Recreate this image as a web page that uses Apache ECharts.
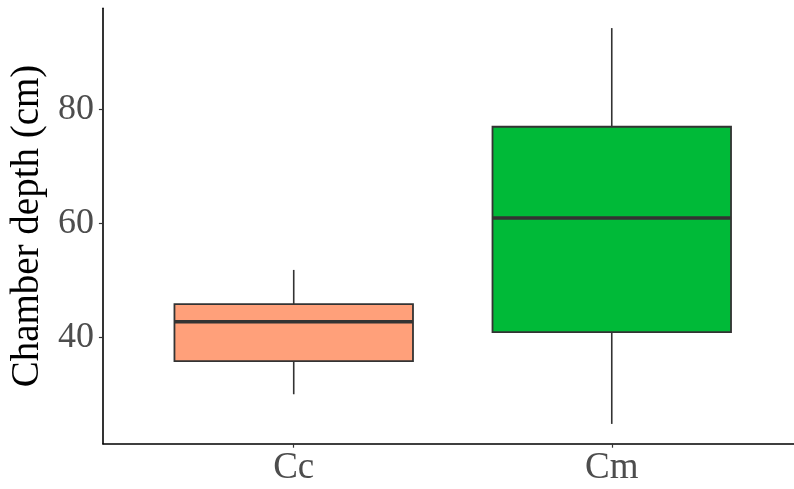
<!DOCTYPE html>
<html>
<head>
<meta charset="utf-8">
<script src="https://cdn.jsdelivr.net/npm/echarts@6/dist/echarts.min.js"></script>
<style>
html,body{margin:0;padding:0;background:#fff;}
#chart{width:794px;height:489px;}
</style>
</head>
<body>
<div id="chart"></div>
<script>
const categories = ['Cc', 'Cm'];
const lowerWhisker = [30, 24.8];
const q1 = [35.8, 40.9];
const median = [42.7, 60.9];
const q3 = [45.8, 76.9];
const upperWhisker = [51.8, 94.2];
const fillColors = ['#FFA07A', '#00BA38'];
const yTicks = [40, 60, 80];
const yAxisTitle = 'Chamber depth (cm)';

const data = categories.map((c, i) => [i + 1, lowerWhisker[i], q1[i], median[i], q3[i], upperWhisker[i]]);

const chart = echarts.init(document.getElementById('chart'), null, {renderer: 'canvas'});
const fontFamily = '"Liberation Serif", "DejaVu Serif", serif';

chart.setOption({
  animation: false,
  backgroundColor: '#ffffff',
  grid: {left: 100.2, right: 0, top: 8.3, bottom: 45.3, containLabel: false},
  xAxis: {
    type: 'value',
    min: 0.4,
    max: 2.573,
    splitLine: {show: false},
    axisLine: {show: true, onZero: false, lineStyle: {color: '#000', width: 1.6}},
    axisTick: {show: true, length: 4, lineStyle: {color: '#333', width: 1.2}, customValues: [1, 2]},
    axisLabel: {
      customValues: [1, 2],
      formatter: v => categories[Math.round(v) - 1] || '',
      color: '#4D4D4D', fontSize: 37, fontFamily: fontFamily, margin: 6
    }
  },
  yAxis: {
    type: 'value',
    min: 21.33,
    max: 97.67,
    name: yAxisTitle,
    nameLocation: 'middle',
    nameGap: 55,
    nameTextStyle: {color: '#000', fontSize: 39, fontFamily: fontFamily},
    splitLine: {show: false},
    axisLine: {show: true, onZero: false, lineStyle: {color: '#000', width: 1.6}},
    axisTick: {show: true, length: 4, lineStyle: {color: '#333', width: 1.2}, customValues: yTicks},
    axisLabel: {customValues: yTicks, color: '#4D4D4D', fontSize: 36, fontFamily: fontFamily, margin: 9}
  },
  series: [{
    type: 'custom',
    data: data,
    encode: {x: 0, y: [1, 2, 3, 4, 5]},
    renderItem: function (params, api) {
      const x = api.value(0);
      const idx = params.dataIndex;
      const half = 0.375;
      const pLowL = api.coord([x - half, api.value(2)]);
      const pHighR = api.coord([x + half, api.value(4)]);
      const pMedL = api.coord([x - half, api.value(3)]);
      const pMedR = api.coord([x + half, api.value(3)]);
      const wLow = api.coord([x, api.value(1)]);
      const wQ1 = api.coord([x, api.value(2)]);
      const wQ3 = api.coord([x, api.value(4)]);
      const wHigh = api.coord([x, api.value(5)]);
      const stroke = '#333333';
      return {
        type: 'group',
        children: [
          {type: 'line', shape: {x1: wLow[0], y1: wLow[1], x2: wQ1[0], y2: wQ1[1]}, style: {stroke: stroke, lineWidth: 1.6}},
          {type: 'line', shape: {x1: wQ3[0], y1: wQ3[1], x2: wHigh[0], y2: wHigh[1]}, style: {stroke: stroke, lineWidth: 1.6}},
          {type: 'rect', shape: {x: pLowL[0], y: pHighR[1], width: pHighR[0] - pLowL[0], height: pLowL[1] - pHighR[1]},
            style: {fill: fillColors[idx], stroke: stroke, lineWidth: 1.8}},
          {type: 'line', shape: {x1: pMedL[0], y1: pMedL[1], x2: pMedR[0], y2: pMedR[1]}, style: {stroke: stroke, lineWidth: 3.6}}
        ]
      };
    }
  }]
});
</script>
</body>
</html>
